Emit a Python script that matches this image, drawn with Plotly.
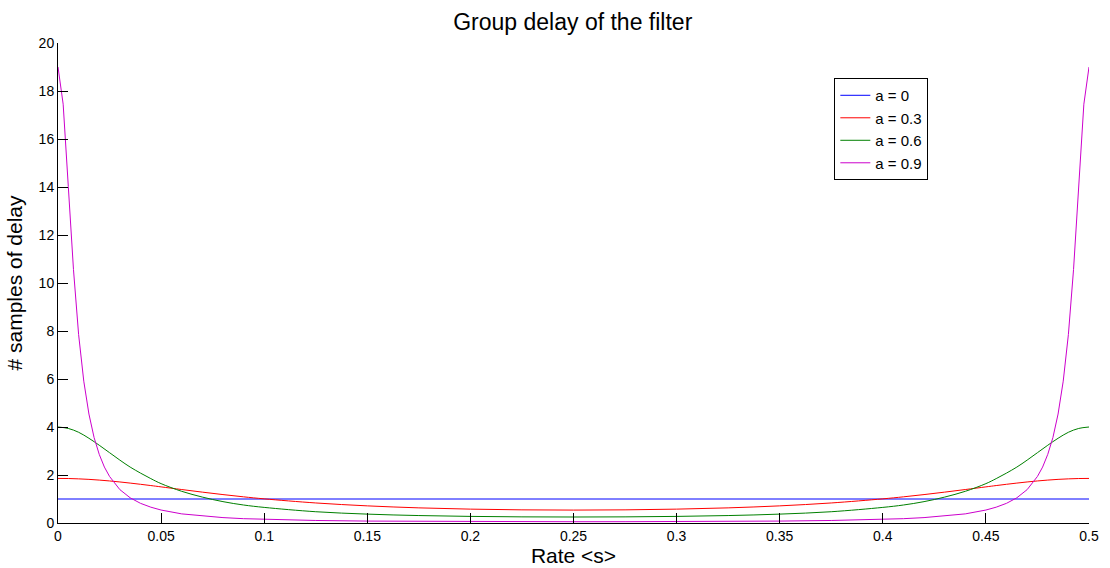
import plotly.graph_objects as go

# x grid (Rate) for the a = 0, 0.3, 0.6 curves
x_main = [0, 0.005, 0.01, 0.015, 0.02, 0.025, 0.03, 0.035, 0.04, 0.045, 0.05,
          0.06, 0.07, 0.08, 0.09, 0.1, 0.125, 0.15, 0.175, 0.2, 0.225, 0.25,
          0.275, 0.3, 0.325, 0.35, 0.375, 0.4, 0.41, 0.42, 0.43, 0.44, 0.45,
          0.455, 0.46, 0.465, 0.47, 0.475, 0.48, 0.485, 0.49, 0.495, 0.5]

delay_a0 = [1] * 43

delay_a03 = [1.857, 1.853, 1.839, 1.818, 1.788, 1.752, 1.710, 1.663, 1.613, 1.560, 1.505,
             1.394, 1.286, 1.184, 1.090, 1.006, 0.835, 0.714, 0.631, 0.578, 0.548, 0.538,
             0.548, 0.578, 0.631, 0.714, 0.835, 1.006, 1.090, 1.184, 1.286, 1.394, 1.505,
             1.560, 1.613, 1.663, 1.710, 1.752, 1.788, 1.818, 1.839, 1.853, 1.857]

delay_a06 = [4.00, 3.94, 3.78, 3.53, 3.24, 2.93, 2.62, 2.33, 2.08, 1.85, 1.64,
             1.32, 1.08, 0.89, 0.75, 0.65, 0.47, 0.37, 0.31, 0.275, 0.256, 0.25,
             0.256, 0.275, 0.31, 0.37, 0.47, 0.65, 0.75, 0.89, 1.08, 1.32, 1.64,
             1.85, 2.08, 2.33, 2.62, 2.93, 3.24, 3.53, 3.78, 3.94, 4.00]

# denser grid for the steep a = 0.9 curve
x_a09 = [0, 0.0025, 0.005, 0.0075, 0.01, 0.0125, 0.015, 0.0175, 0.02, 0.0225, 0.025,
         0.03, 0.035, 0.04, 0.045, 0.05, 0.06, 0.07, 0.08, 0.09, 0.1, 0.125, 0.15,
         0.175, 0.2, 0.225, 0.25,
         0.275, 0.3, 0.325, 0.35, 0.375, 0.4, 0.41, 0.42, 0.43, 0.44, 0.45, 0.455,
         0.46, 0.465, 0.47, 0.475, 0.4775, 0.48, 0.4825, 0.485, 0.4875, 0.49,
         0.4925, 0.495, 0.4975, 0.5]

delay_a09 = [19.0, 17.45, 14.02, 10.56, 7.85, 5.91, 4.54, 3.56, 2.86, 2.33, 1.94,
             1.39, 1.05, 0.82, 0.66, 0.54, 0.38, 0.29, 0.225, 0.18, 0.15, 0.105, 0.08,
             0.066, 0.058, 0.054, 0.053,
             0.054, 0.058, 0.066, 0.08, 0.105, 0.15, 0.18, 0.225, 0.29, 0.38, 0.54, 0.66,
             0.82, 1.05, 1.39, 1.94, 2.33, 2.86, 3.56, 4.54, 5.91, 7.85,
             10.56, 14.02, 17.45, 19.0]

series_names = ["a = 0", "a = 0.3", "a = 0.6", "a = 0.9"]
series_colors = ["#0000ff", "#ff0000", "#008000", "#cc00cc"]

x_ticks = [0, 0.05, 0.1, 0.15, 0.2, 0.25, 0.3, 0.35, 0.4, 0.45, 0.5]
x_tick_text = ["0", "0.05", "0.1", "0.15", "0.2", "0.25", "0.3", "0.35", "0.4", "0.45", "0.5"]
y_ticks = [0, 2, 4, 6, 8, 10, 12, 14, 16, 18, 20]

FONT = "Liberation Sans, Arial, sans-serif"

fig = go.Figure()
data = [(x_main, delay_a0, "linear"), (x_main, delay_a03, "spline"),
        (x_main, delay_a06, "spline"), (x_a09, delay_a09, "linear")]
for (xs, ys, shape), name, color in zip(data, series_names, series_colors):
    fig.add_trace(go.Scatter(x=xs, y=ys, mode="lines", name=name,
                             line=dict(color=color, width=1, shape=shape)))

fig.update_layout(
    width=1110, height=568,
    margin=dict(l=58, r=21, t=43, b=45, autoexpand=False),
    paper_bgcolor="white", plot_bgcolor="white",
    font=dict(family=FONT, size=14, color="black"),
    title=dict(text="Group delay of the filter", x=0.516, xanchor="center",
               y=0.961, yanchor="middle", font=dict(size=23, color="black")),
    showlegend=True,
    legend=dict(x=0.753, y=0.927, xanchor="left", yanchor="top",
                bgcolor="white", bordercolor="black", borderwidth=1,
                font=dict(size=15), tracegroupgap=0, itemwidth=30),
)
fig.update_xaxes(range=[0, 0.5], tickvals=x_ticks, ticktext=x_tick_text,
                 showgrid=False, zeroline=False, showline=True, linecolor="black",
                 linewidth=1, ticks="inside", ticklen=10, tickcolor="black",
                 automargin=False,
                 title=dict(text="Rate &lt;s&gt;", font=dict(size=21), standoff=2))
fig.update_yaxes(range=[0, 20], tickvals=y_ticks,
                 showgrid=False, zeroline=False, showline=True, linecolor="black",
                 linewidth=1, ticks="inside", ticklen=10, tickcolor="black",
                 automargin=False,
                 title=dict(text="# samples of delay", font=dict(size=21), standoff=10))

fig.write_html("out.html")
